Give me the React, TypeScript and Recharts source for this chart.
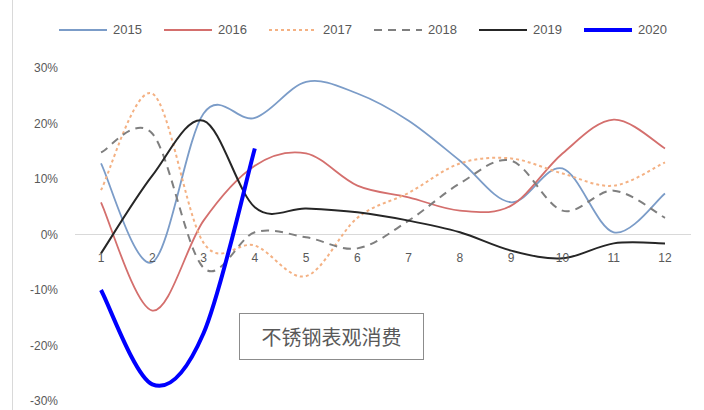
import React from "react";
import { LineChart, Line, XAxis, YAxis, ReferenceLine } from "recharts";

const months = ["1", "2", "3", "4", "5", "6", "7", "8", "9", "10", "11", "12"];
const y2015 = [12.8, -5, 21.8, 21, 27.5, 25.4, 20.5, 13.3, 5.8, 11.9, 0.4, 7.4];
const y2016 = [5.8, -13.7, 2.5, 12.4, 14.6, 8.8, 6.7, 4.3, 5.2, 14.6, 20.7, 15.5];
const y2017 = [8, 25.4, -1.5, -2, -7.5, 3, 7.5, 12.8, 13.7, 11, 8.8, 13];
const y2018 = [14.8, 18.2, -6, 0.4, -0.5, -2.5, 2.5, 9.2, 13.3, 4.3, 7.9, 3];
const y2019 = [-3.4, 10.6, 20.5, 4.9, 4.7, 4, 2.5, 0.4, -2.9, -4.3, -1.6, -1.6];
const y2020 = [-10, -27, -17.8, 15.5];
const yTicks = [-30, -20, -10, 0, 10, 20, 30];
const annotation = "不锈钢表观消费";

const seriesDefs = [
  { key: "2015", values: y2015, color: "#7b9cc8", width: 1.8, dash: undefined as string | undefined },
  { key: "2016", values: y2016, color: "#d46f6d", width: 1.8, dash: undefined },
  { key: "2017", values: y2017, color: "#f4b183", width: 2, dash: "3 3" },
  { key: "2018", values: y2018, color: "#7f7f7f", width: 2, dash: "8 6" },
  { key: "2019", values: y2019, color: "#262626", width: 2, dash: undefined },
  { key: "2020", values: y2020, color: "#0000ff", width: 4, dash: undefined },
];

const data = months.map((m, i) => {
  const row: Record<string, any> = { month: m };
  seriesDefs.forEach((s) => {
    row[s.key] = i < s.values.length ? s.values[i] : null;
  });
  return row;
});

// Excel-like smoothing (Catmull-Rom as cubic Bezier)
function excelSmooth(context: any) {
  let pts: number[][] = [];
  return {
    areaStart() {},
    areaEnd() {},
    lineStart() {
      pts = [];
    },
    lineEnd() {
      if (!pts.length) return;
      context.moveTo(pts[0][0], pts[0][1]);
      for (let i = 0; i < pts.length - 1; i++) {
        const p0 = pts[i - 1] || pts[i];
        const p1 = pts[i];
        const p2 = pts[i + 1];
        const p3 = pts[i + 2] || p2;
        context.bezierCurveTo(
          p1[0] + (p2[0] - p0[0]) / 6,
          p1[1] + (p2[1] - p0[1]) / 6,
          p2[0] - (p3[0] - p1[0]) / 6,
          p2[1] - (p3[1] - p1[1]) / 6,
          p2[0],
          p2[1]
        );
      }
    },
    point(x: number, y: number) {
      pts.push([+x, +y]);
    },
  };
}

const W = 704;
const H = 410;
const MARGIN = { top: 68, right: 13, bottom: 8, left: 0 };
const X_AXIS_H = 1;
const Y_MIN = -30;
const Y_MAX = 30;
const PLOT_H = H - MARGIN.top - MARGIN.bottom - X_AXIS_H;
const ZERO_Y = MARGIN.top + (Y_MAX / (Y_MAX - Y_MIN)) * PLOT_H;
const FONT = "'Liberation Sans', Arial, sans-serif";

const XTick = (props: any) => {
  const { x, payload } = props;
  return (
    <text x={x} y={ZERO_Y + 27} textAnchor="middle" fill="#595959" fontSize={12} fontFamily={FONT}>
      {payload.value}
    </text>
  );
};

export default function App() {
  return (
    <div style={{ position: "relative", width: W, height: H, background: "#fff", overflow: "hidden" }}>
      <style>{"body{margin:0}"}</style>
      <div style={{ position: "absolute", left: 12, top: 0, width: 1, height: H, background: "#d9d9d9" }} />
      <div style={{ position: "absolute", left: 58, top: 22, display: "flex", alignItems: "center" }}>
        {seriesDefs.map((s) => (
          <div key={s.key} style={{ display: "flex", alignItems: "center", width: 105 }}>
            <svg width={50} height={16}>
              <line x1={1} x2={49} y1={8} y2={8} stroke={s.color} strokeWidth={s.width} strokeDasharray={s.dash} />
            </svg>
            <span style={{ marginLeft: 5, fontSize: 13, fontFamily: FONT, color: "#595959", lineHeight: "16px" }}>{s.key}</span>
          </div>
        ))}
      </div>
      <LineChart width={W} height={H} data={data} margin={MARGIN}>
        <ReferenceLine y={0} stroke="#d9d9d9" strokeWidth={1} />
        <XAxis
          dataKey="month"
          padding={{ left: 26, right: 26 }}
          axisLine={false}
          tickLine={false}
          height={X_AXIS_H}
          interval={0}
          tick={<XTick />}
        />
        <YAxis
          domain={[Y_MIN, Y_MAX]}
          ticks={yTicks}
          width={75}
          axisLine={false}
          tickLine={false}
          tickMargin={11}
          tickFormatter={(v: number) => `${v}%`}
          tick={{ fill: "#595959", fontSize: 12, fontFamily: FONT }}
        />
        {seriesDefs.map((s) => (
          <Line
            key={s.key}
            dataKey={s.key}
            type={excelSmooth as any}
            stroke={s.color}
            strokeWidth={s.width}
            strokeDasharray={s.dash}
            dot={false}
            activeDot={false}
            connectNulls={false}
            isAnimationActive={false}
          />
        ))}
      </LineChart>
      <div
        style={{
          position: "absolute",
          left: 239,
          top: 313,
          width: 185,
          height: 47,
          boxSizing: "border-box",
          border: "1.5px solid #8c8c8c",
          display: "flex",
          alignItems: "center",
          justifyContent: "center",
          fontSize: 20,
          fontFamily: "'Noto Sans CJK SC', sans-serif",
          color: "#595959",
          background: "#fff",
        }}
      >
        {annotation}
      </div>
    </div>
  );
}
